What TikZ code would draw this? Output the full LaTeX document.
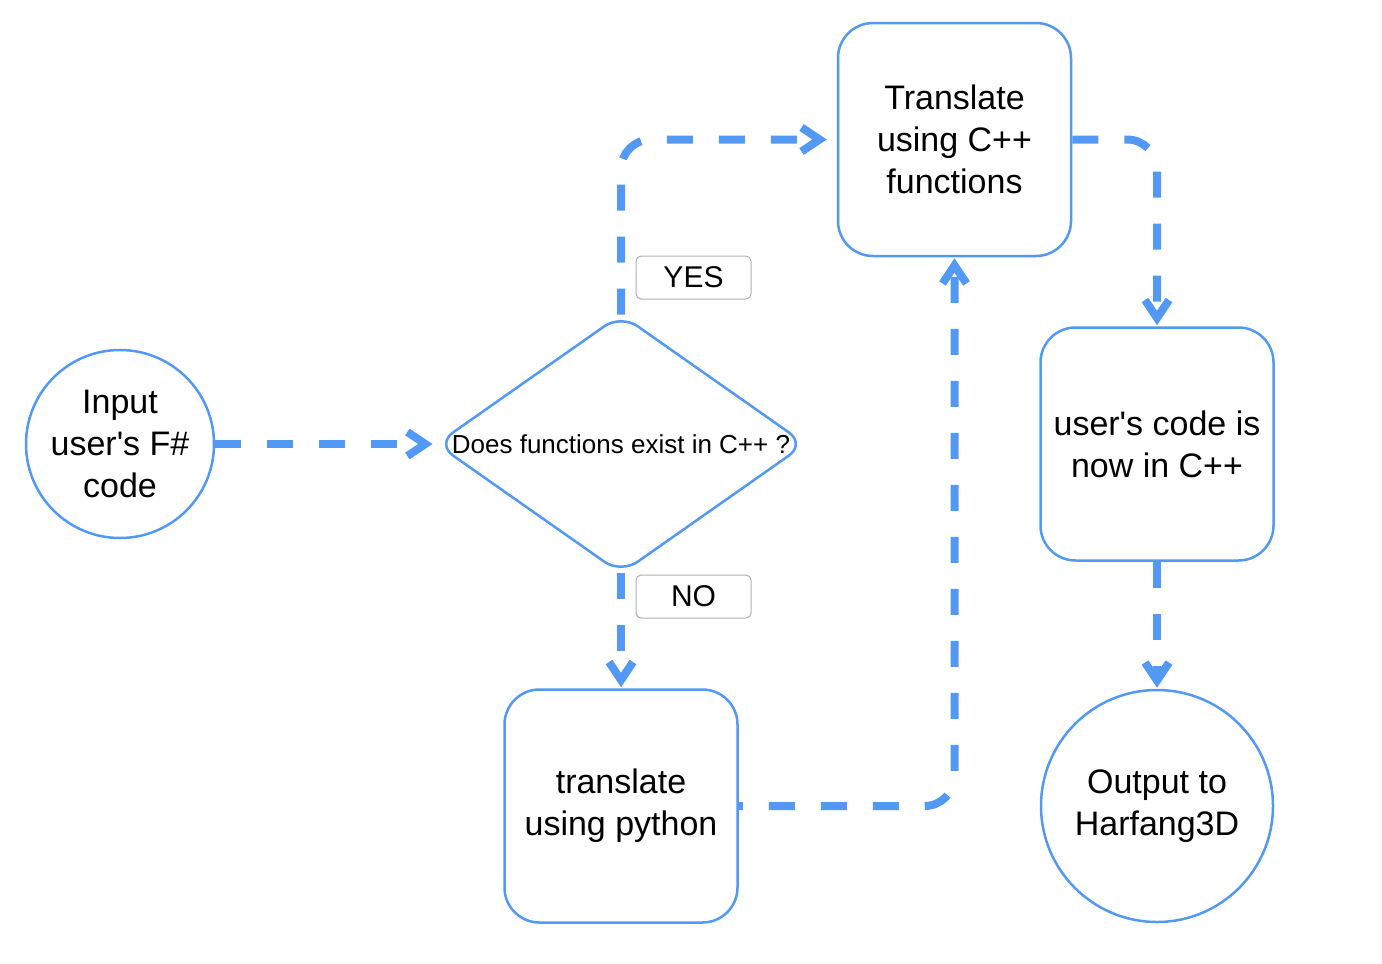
\documentclass[tikz,border=0pt]{standalone}
\usepackage{fontspec}
\setmainfont{Liberation Sans}
\usetikzlibrary{arrows.meta,calc}
\definecolor{flow}{RGB}{82,152,245}
\definecolor{labgray}{RGB}{175,175,175}
\begin{document}
\begin{tikzpicture}[x=0.5pt,y=-0.5pt,
  txt/.style={align=center, font=\fontsize{17}{21}\selectfont},
  shapebox/.style={txt, draw=flow, line width=1.25pt, rounded corners=17.5pt,
    minimum width=116.5pt, minimum height=116.5pt, inner sep=0pt},
  roundnode/.style={txt, draw=flow, line width=1.25pt, circle, inner sep=0pt},
  lab/.style={draw=labgray, line width=0.5pt, rounded corners=2.5pt,
    minimum width=57.5pt, minimum height=21.5pt, inner sep=0pt,
    font=\fontsize{15}{18}\selectfont},
  flowline/.style={draw=flow, line width=4pt, dash pattern=on 13pt off 13pt,
    rounded corners=15pt, -{Straight Barb[sharp,length=9pt,width=12pt]}, shorten >=0.5pt}
]
\useasboundingbox (0,0) rectangle (1382,964);

\node[roundnode, minimum size=94pt] (in) at (120,444) {Input\\user\textquotesingle s F\#\\code};
\node[minimum width=184pt, minimum height=129pt, inner sep=0pt,
      font=\fontsize{13}{16}\selectfont] (d) at (621,444) {Does functions exist in C++ ?};
\draw[draw=flow, line width=1.25pt, rounded corners=10pt]
  ($(d.north)!0.5!(d.east)$) -- (d.east) -- (d.south) -- (d.west) -- (d.north) -- cycle;
\node[shapebox] (tr) at (954.5,139.5) {Translate\\using C++\\functions};
\node[shapebox] (uc) at (1157,444) {user\textquotesingle s code is\\now in C++};
\node[shapebox] (py) at (621,806) {translate\\using python};
\node[roundnode, minimum size=116pt] (out) at (1157,806) {Output to\\Harfang3D};

\node[lab] (yes) at (693.5,277.5) {YES};
\node[lab] (no) at (693.5,596.5) {NO};

\draw[flowline, shorten >=2pt] (in.east) -- (d.west);
\draw[flowline, shorten >=5pt] (d.north) |- (tr.west);
\draw[flowline] (tr.east) -| (uc.north);
\draw[flowline] (d.south) -- (py.north);
\draw[flowline, dash phase=11pt] (py.east) -| (tr.south);
\draw[flowline] (uc.south) -- (out.north);
\end{tikzpicture}
\end{document}
